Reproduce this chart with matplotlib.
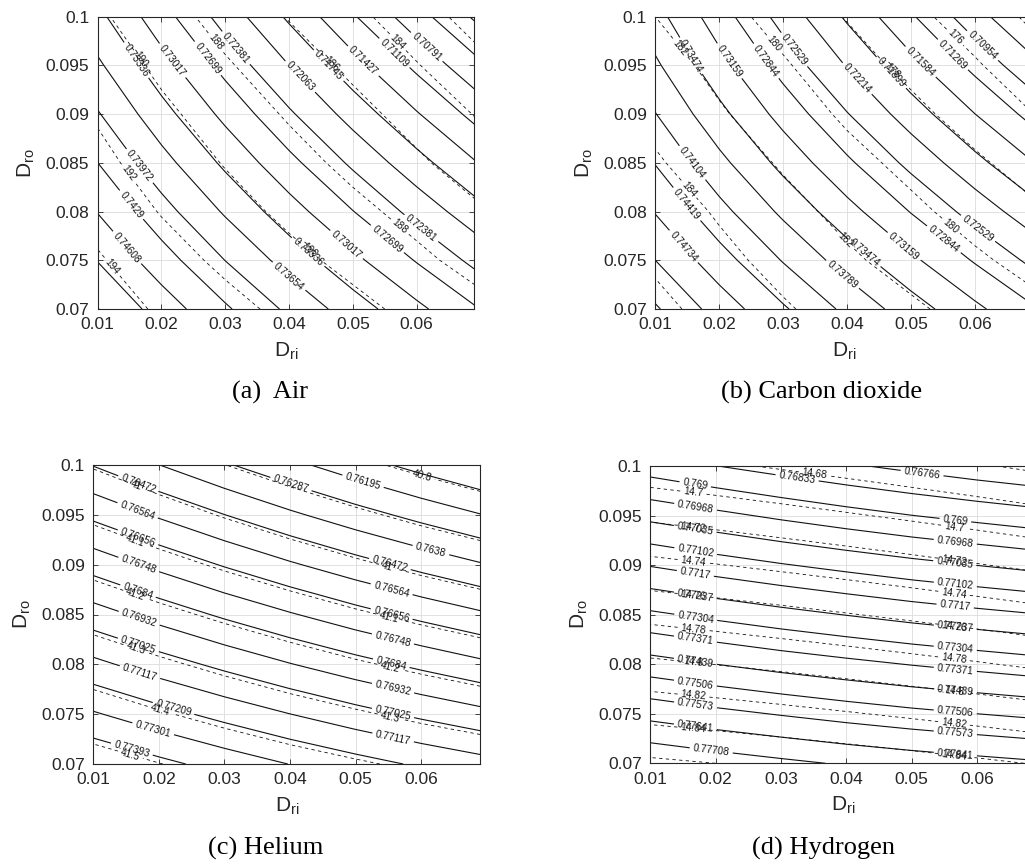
import numpy as np
import matplotlib
matplotlib.use('Agg')
import matplotlib.pyplot as plt

plt.rcParams['font.family'] = ['Liberation Sans', 'DejaVu Sans']
plt.rcParams['mathtext.fontset'] = 'custom'
plt.rcParams['mathtext.rm'] = 'Liberation Sans'
plt.rcParams['mathtext.it'] = 'Liberation Sans'
plt.rcParams['lines.dashed_pattern'] = (4, 4)

# Grid nodes (D_ri along x, D_ro along y); tables below are row = D_ro, column = D_ri
d_ri = [0.01, 0.02, 0.03, 0.04, 0.05, 0.06, 0.07]
d_ro = [0.07, 0.075, 0.08, 0.085, 0.09, 0.095, 0.1]

# (a) Air: efficiency (solid) and second quantity (dashed)
eff_air = [
    [0.75254, 0.74783, 0.74336, 0.73908, 0.73495, 0.73092, 0.72695],
    [0.74914, 0.74430, 0.73968, 0.73526, 0.73097, 0.72678, 0.72265],
    [0.74595, 0.74094, 0.73615, 0.73155, 0.72708, 0.72271, 0.71838],
    [0.74291, 0.73770, 0.73272, 0.72791, 0.72323, 0.71864, 0.71409],
    [0.73997, 0.73454, 0.72933, 0.72429, 0.71937, 0.71454, 0.70974],
    [0.73709, 0.73141, 0.72594, 0.72064, 0.71545, 0.71035, 0.70527],
    [0.73421, 0.72825, 0.72250, 0.71691, 0.71143, 0.70602, 0.70064]]
dash_air = [
    [195.1, 193.7, 192.6, 191.5, 190.5, 189.5, 188.5],
    [194.2, 192.8, 191.6, 190.5, 189.5, 188.4, 187.3],
    [193.3, 191.9, 190.7, 189.6, 188.5, 187.4, 186.2],
    [192.5, 191.1, 189.9, 188.7, 187.5, 186.3, 185.0],
    [191.8, 190.4, 189.1, 187.8, 186.6, 185.3, 183.8],
    [191.1, 189.6, 188.2, 186.9, 185.6, 184.1, 182.5],
    [190.3, 188.8, 187.3, 185.9, 184.5, 182.9, 181.1]]

# (b) Carbon dioxide
eff_co2 = [
    [0.75403, 0.74915, 0.74459, 0.74030, 0.73622, 0.73229, 0.72846],
    [0.75049, 0.74551, 0.74085, 0.73644, 0.73223, 0.72816, 0.72417],
    [0.74716, 0.74206, 0.73725, 0.73269, 0.72831, 0.72405, 0.71987],
    [0.74405, 0.73877, 0.73379, 0.72902, 0.72444, 0.71996, 0.71554],
    [0.74114, 0.73565, 0.73044, 0.72545, 0.72061, 0.71588, 0.71118],
    [0.73842, 0.73269, 0.72722, 0.72195, 0.71683, 0.71179, 0.70679],
    [0.73589, 0.72987, 0.72410, 0.71852, 0.71308, 0.70770, 0.70235]]
dash_co2 = [
    [186.5, 185.3, 184.2, 183.2, 182.3, 181.3, 180.4],
    [185.7, 184.5, 183.4, 182.3, 181.3, 180.3, 179.3],
    [185.0, 183.8, 182.6, 181.5, 180.4, 179.3, 178.2],
    [184.2, 183.0, 181.8, 180.6, 179.5, 178.3, 177.1],
    [183.5, 182.2, 181.0, 179.7, 178.5, 177.2, 175.9],
    [182.8, 181.5, 180.2, 178.8, 177.5, 176.2, 174.7],
    [182.0, 180.7, 179.3, 177.9, 176.5, 175.1, 173.5]]

# (c) Helium
eff_he = [
    [0.77482, 0.77418, 0.77357, 0.77299, 0.77246, 0.77195, 0.77149],
    [0.77311, 0.77243, 0.77179, 0.77118, 0.77060, 0.77006, 0.76956],
    [0.77141, 0.77069, 0.77001, 0.76936, 0.76875, 0.76818, 0.76764],
    [0.76972, 0.76896, 0.76824, 0.76756, 0.76691, 0.76630, 0.76573],
    [0.76803, 0.76724, 0.76648, 0.76576, 0.76508, 0.76443, 0.76382],
    [0.76635, 0.76552, 0.76473, 0.76397, 0.76325, 0.76257, 0.76192],
    [0.76468, 0.76381, 0.76298, 0.76219, 0.76143, 0.76071, 0.76002]]
dash_he = [
    [41.537, 41.502, 41.469, 41.438, 41.410, 41.383, 41.359],
    [41.445, 41.408, 41.373, 41.340, 41.310, 41.281, 41.255],
    [41.354, 41.315, 41.278, 41.243, 41.210, 41.180, 41.152],
    [41.263, 41.222, 41.183, 41.146, 41.111, 41.079, 41.049],
    [41.172, 41.129, 41.088, 41.049, 41.013, 40.978, 40.946],
    [41.082, 41.037, 40.994, 40.954, 40.915, 40.878, 40.844],
    [40.993, 40.946, 40.901, 40.858, 40.817, 40.779, 40.743]]

# (d) Hydrogen
eff_h2 = [
    [0.77771, 0.77746, 0.77723, 0.77701, 0.77682, 0.77665, 0.77649],
    [0.77619, 0.77592, 0.77568, 0.77545, 0.77524, 0.77506, 0.77489],
    [0.77467, 0.77439, 0.77413, 0.77390, 0.77368, 0.77348, 0.77329],
    [0.77316, 0.77287, 0.77260, 0.77235, 0.77211, 0.77190, 0.77171],
    [0.77166, 0.77135, 0.77107, 0.77081, 0.77056, 0.77034, 0.77013],
    [0.77016, 0.76985, 0.76955, 0.76927, 0.76901, 0.76878, 0.76856],
    [0.76867, 0.76834, 0.76804, 0.76775, 0.76748, 0.76722, 0.76699]]
dash_h2 = [
    [14.8635, 14.8600, 14.8561, 14.8521, 14.8479, 14.8434, 14.8387],
    [14.8334, 14.8297, 14.8257, 14.8214, 14.8170, 14.8123, 14.8075],
    [14.8037, 14.7997, 14.7955, 14.7911, 14.7864, 14.7816, 14.7765],
    [14.7742, 14.7700, 14.7656, 14.7610, 14.7562, 14.7512, 14.7459],
    [14.7451, 14.7407, 14.7361, 14.7313, 14.7263, 14.7210, 14.7156],
    [14.7162, 14.7117, 14.7069, 14.7019, 14.6967, 14.6913, 14.6856],
    [14.6877, 14.6830, 14.6780, 14.6728, 14.6674, 14.6618, 14.6559]]

# Contour levels shown in each panel
lev_air = [0.70155, 0.70473, 0.70791, 0.71109, 0.71427, 0.71745, 0.72063, 0.72381, 0.72699,
           0.73017, 0.73336, 0.73654, 0.73972, 0.7429, 0.74608, 0.74926, 0.75244]
dlev_air = [180, 182, 184, 186, 188, 190, 192, 194, 196, 198]
lev_co2 = [0.70009, 0.70324, 0.70639, 0.70954, 0.71269, 0.71584, 0.71899, 0.72214, 0.72529,
           0.72844, 0.73159, 0.73474, 0.73789, 0.74104, 0.74419, 0.74734, 0.75049, 0.75364]
dlev_co2 = [172, 174, 176, 178, 180, 182, 184, 186, 188, 190]
lev_he = [0.76011, 0.76103, 0.76195, 0.76287, 0.7638, 0.76472, 0.76564, 0.76656, 0.76748,
          0.7684, 0.76932, 0.77025, 0.77117, 0.77209, 0.77301, 0.77393, 0.77485]
dlev_he = [40.7, 40.8, 40.9, 41, 41.1, 41.2, 41.3, 41.4, 41.5, 41.6]
lev_h2 = [0.76699, 0.76766, 0.76833, 0.769, 0.76968, 0.77035, 0.77102, 0.7717, 0.77237,
          0.77304, 0.77371, 0.77439, 0.77506, 0.77573, 0.77641, 0.77708, 0.77775]
dlev_h2 = [14.64, 14.66, 14.68, 14.7, 14.72, 14.74, 14.76, 14.78, 14.8, 14.82, 14.84, 14.86, 14.88]

# Where the inline labels sit (data coordinates)
lab_air = [(0.0155, 0.0953), (0.0213, 0.0953), (0.0268, 0.0955), (0.0315, 0.0967), (0.0415, 0.0937),
           (0.0467, 0.0953), (0.0514, 0.0953), (0.0561, 0.096), (0.0613, 0.0967),
           (0.0168, 0.0848), (0.0153, 0.0807), (0.0144, 0.0762),
           (0.0399, 0.0733), (0.0425, 0.0755), (0.049, 0.0766), (0.0553, 0.0771), (0.0605, 0.0781)]
dlab_air = [(0.0117, 0.0741), (0.0148, 0.0839), (0.0158, 0.0952), (0.0428, 0.0757),
            (0.0279, 0.0971), (0.0569, 0.0781), (0.0469, 0.0953), (0.0566, 0.0971)]
lab_co2 = [(0.0148, 0.0957), (0.021, 0.0952), (0.027, 0.0953), (0.0319, 0.0967), (0.0415, 0.0936),
           (0.0465, 0.094), (0.0514, 0.0953), (0.0564, 0.096), (0.0613, 0.0971),
           (0.0154, 0.0848), (0.0148, 0.0807), (0.0144, 0.0764),
           (0.0395, 0.0737), (0.0423, 0.0755), (0.0489, 0.0764), (0.0551, 0.0771), (0.0603, 0.0781)]
dlab_co2 = [(0.0147, 0.082), (0.0134, 0.0966), (0.0397, 0.0771), (0.0275, 0.0966),
            (0.0557, 0.0781), (0.0465, 0.094), (0.0566, 0.0977)]
lab_he = [(0.0169, 0.0982), (0.0169, 0.0957), (0.0169, 0.0929), (0.0172, 0.0905), (0.0169, 0.0875),
          (0.0172, 0.085), (0.0169, 0.082), (0.0172, 0.0794), (0.0222, 0.0755), (0.0193, 0.0739),
          (0.0157, 0.0711),
          (0.0552, 0.09), (0.0554, 0.0873), (0.0554, 0.0848), (0.0556, 0.0823), (0.0554, 0.08),
          (0.0557, 0.0776), (0.0557, 0.0751), (0.0557, 0.0726),
          (0.04, 0.0978), (0.0511, 0.0983), (0.0615, 0.0915)]
dlab_he = [(0.0602, 0.099), (0.0165, 0.0979), (0.0165, 0.0926), (0.0165, 0.0871), (0.0165, 0.0816),
           (0.02, 0.0750), (0.0155, 0.0706),
           (0.0548, 0.0897), (0.055, 0.0845), (0.0552, 0.0796), (0.0553, 0.0747)]
lab_h2 = [(0.0169, 0.09825), (0.0169, 0.09573), (0.0169, 0.09371), (0.0169, 0.09119), (0.0169, 0.08917),
          (0.0169, 0.08698), (0.0169, 0.08446), (0.0169, 0.08244), (0.0169, 0.08025), (0.0169, 0.07807),
          (0.0169, 0.07571), (0.0169, 0.0737), (0.0193, 0.07117),
          (0.0567, 0.09445), (0.0567, 0.09236), (0.0567, 0.09068), (0.0567, 0.088), (0.0567, 0.08597),
          (0.0567, 0.08362), (0.0567, 0.0816), (0.0567, 0.07941), (0.0567, 0.07723), (0.0567, 0.07521),
          (0.0567, 0.07303), (0.0567, 0.07084), (0.0325, 0.0989), (0.0516, 0.0992)]
dlab_h2 = [(0.0352, 0.0993), (0.0166, 0.0975), (0.0166, 0.0937), (0.0166, 0.09035), (0.0166, 0.08698),
           (0.0166, 0.08345), (0.0166, 0.08025), (0.0166, 0.07672), (0.0166, 0.0737),
           (0.0565, 0.09381), (0.0565, 0.09068), (0.0565, 0.08709), (0.0565, 0.08362),
           (0.0565, 0.08059), (0.0565, 0.07723), (0.0565, 0.07404), (0.0565, 0.07084)]

xticks = [0.01, 0.02, 0.03, 0.04, 0.05, 0.06]
xtick_labels = ['0.01', '0.02', '0.03', '0.04', '0.05', '0.06']
yticks = [0.07, 0.075, 0.08, 0.085, 0.09, 0.095, 0.1]
ytick_labels = ['0.07', '0.075', '0.08', '0.085', '0.09', '0.095', '0.1']
captions = ['(a)  Air', '(b) Carbon dioxide', '(c) Helium', '(d) Hydrogen']

W, H = 1025, 864
fig = plt.figure(figsize=(W / 100, H / 100), dpi=100)

# axes box in pixels (left, top, right, bottom) and caption centre; b/d run past the right edge
panels = [
    ((97.7, 16.7, 474, 309), eff_air, dash_air, lev_air, dlev_air, lab_air, dlab_air, (270, 392)),
    ((655.3, 16.7, 1032.3, 309), eff_co2, dash_co2, lev_co2, dlev_co2, lab_co2, dlab_co2, (822, 392)),
    ((93.3, 465, 480.2, 764), eff_he, dash_he, lev_he, dlev_he, lab_he, dlab_he, (266, 848)),
    ((650.3, 466, 1035.6, 763.3), eff_h2, dash_h2, lev_h2, dlev_h2, lab_h2, dlab_h2, (823, 848)),
]

for cap, ((l, t, r, b), E, D, elev, dlev, elab, dlab, (cx, cy)) in zip(captions, panels):
    ax = fig.add_axes([l / W, 1 - b / H, (r - l) / W, (b - t) / H])
    cs = ax.contour(d_ri, d_ro, np.array(E), levels=elev, colors='#111111',
                    linewidths=0.8, linestyles='solid')
    cd = ax.contour(d_ri, d_ro, np.array(D), levels=dlev, colors='#111111',
                    linewidths=0.6, linestyles='dashed')
    ax.clabel(cs, inline=True, inline_spacing=3, fontsize=7.3, fmt='%g', manual=elab)
    ax.clabel(cd, inline=True, inline_spacing=3, fontsize=7.3, fmt='%g', manual=dlab)

    ax.set_xlim(0.01, 0.069)
    ax.set_ylim(0.07, 0.1)
    ax.set_xticks(xticks)
    ax.set_xticklabels(xtick_labels)
    ax.set_yticks(yticks)
    ax.set_yticklabels(ytick_labels)
    ax.grid(True, color='#dcdcdc', linewidth=0.6)
    ax.set_axisbelow(True)
    ax.tick_params(direction='in', top=True, right=True, length=3.5, width=0.6,
                   colors='#262626', labelsize=12.5, pad=6)
    for s in ax.spines.values():
        s.set_color('#262626')
        s.set_linewidth(0.8)
    ax.set_xlabel(r'$\mathrm{D_{ri}}$', fontsize=15, color='#262626', labelpad=6)
    ax.set_ylabel(r'$\mathrm{D_{ro}}$', fontsize=15, color='#262626', labelpad=6)

    fig.text(cx / W, 1 - cy / H, cap, ha='center', va='center', fontsize=19,
             family='Liberation Serif')

fig.savefig('out.png', dpi=100)
